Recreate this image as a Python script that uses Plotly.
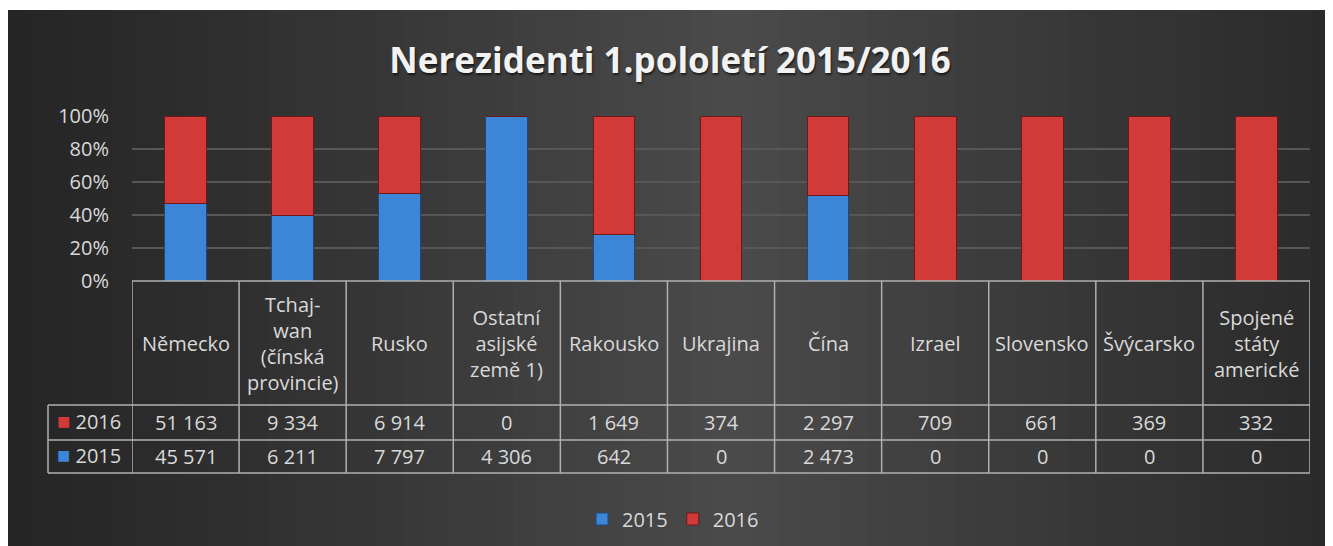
import plotly.graph_objects as go

# data
countries = ["Německo", "Tchaj-<br>wan<br>(čínská<br>provincie)", "Rusko", "Ostatní<br>asijské<br>země 1)",
             "Rakousko", "Ukrajina", "Čína", "Izrael", "Slovensko", "Švýcarsko", "Spojené<br>státy<br>americké"]
v2015 = [45571, 6211, 7797, 4306, 642, 0, 2473, 0, 0, 0, 0]
v2016 = [51163, 9334, 6914, 0, 1649, 374, 2297, 709, 661, 369, 332]
y_ticks = [0, 20, 40, 60, 80, 100]
y_ticklabels = ["0%", "20%", "40%", "60%", "80%", "100%"]

# page body has an 8px margin, so work in screen pixels and subtract it
OFF = 8
W, H = 1333 - OFF, 546 - OFF
BLUE = "#3d85d6"
RED = "#d23a3a"
TXT = "#d9d9d9"
GRID = "#575757"
LINE = "#b0b0b0"
FONT = "Open Sans"

n = len(countries)
x = list(range(n))

fig = go.Figure()
fig.add_trace(go.Bar(x=x, y=v2015, name="2015", width=0.39,
                     marker=dict(color=BLUE, line=dict(color="#1c4a80", width=1))))
fig.add_trace(go.Bar(x=x, y=v2016, name="2016", width=0.39,
                     marker=dict(color=RED, line=dict(color="#6e1818", width=1))))

# screen pixel -> paper fraction
def py(p):
    return 1 - (p - OFF) / H

def px(p):
    return (p - OFF) / W

x0, x1 = 132, 1310
y_top, y_axis = 116, 281
r1, r2, r3 = 405, 440, 473

shapes = []
# background gradient (white strip at top, dark gradient panel)
steps = 60
left = 3
for i in range(steps):
    a = left + (1333 - left) * i / steps
    b = left + (1333 - left) * (i + 1) / steps
    t = (i + 0.5) / steps
    c = 37 + int(38 * max(0, 1 - abs(t - 0.55) / 0.55) ** 1.1)
    if t > 0.975:
        c = 42
    col = f"rgb({c},{c},{c})"
    shapes.append(dict(type="rect", xref="paper", yref="paper", layer="below",
                       x0=max(px(a), -0.01), x1=px(b) + 0.001, y0=-0.01, y1=py(10),
                       fillcolor=col, line=dict(width=0)))

# table lines
def hline(y, xa, xb):
    shapes.append(dict(type="line", xref="paper", yref="paper", x0=px(xa), x1=px(xb),
                       y0=py(y), y1=py(y), line=dict(color=LINE, width=1.5)))

hline(y_axis, x0, x1)
for yy in (r1, r2, r3):
    hline(yy, 48, x1)
shapes.append(dict(type="line", xref="paper", yref="paper", x0=px(48), x1=px(48),
                   y0=py(r1), y1=py(r3), line=dict(color=LINE, width=1.5)))
for i in range(n + 1):
    shapes.append(dict(type="line", xref="x", yref="paper", x0=i - 0.5, x1=i - 0.5,
                       y0=py(y_axis), y1=py(r3), line=dict(color=LINE, width=1.5)))

annotations = []
fmt = lambda v: f"{v:,}".replace(",", " ")
cell_font = dict(family=FONT, size=20, color=TXT)
for i, c in enumerate(countries):
    annotations.append(dict(x=i, y=py((y_axis + r1) / 2), xref="x", yref="paper", text=c,
                            showarrow=False, font=cell_font, yanchor="middle"))
    annotations.append(dict(x=i, y=py((r1 + r2) / 2), xref="x", yref="paper", text=fmt(v2016[i]),
                            showarrow=False, font=cell_font, yanchor="middle"))
    annotations.append(dict(x=i, y=py((r2 + r3) / 2), xref="x", yref="paper", text=fmt(v2015[i]),
                            showarrow=False, font=cell_font, yanchor="middle"))
for label, col, (ya, yb) in (("2016", RED, (r1, r2)), ("2015", BLUE, (r2, r3))):
    annotations.append(dict(x=px(55), y=py((ya + yb) / 2 - 3), xref="paper", yref="paper",
                            xanchor="left", yanchor="middle",
                            text=f"<span style='color:{col};font-size:22px'>■</span> {label}",
                            showarrow=False, font=cell_font))

fig.update_layout(
    template="none",
    width=W, height=H,
    margin=dict(l=0, r=0, t=0, b=0, autoexpand=False),
    paper_bgcolor="white",
    plot_bgcolor="rgba(0,0,0,0)",
    barmode="stack",
    barnorm="percent",
    title=dict(text="<b>Nerezidenti 1.pololetí 2015/2016</b>", x=px(670), xanchor="center",
               y=py(61), yanchor="middle",
               font=dict(family=FONT, size=35, color="#f2f2f2",
                         shadow="1px 2px 2px rgba(0,0,0,0.6)")),
    xaxis=dict(domain=[px(x0), px(x1)], range=[-0.5, n - 0.5], showticklabels=False,
               showgrid=False, zeroline=False, showline=False, ticks="", automargin=False),
    yaxis=dict(domain=[py(y_axis), py(y_top)], range=[0, 100], tickvals=y_ticks,
               ticktext=y_ticklabels, gridcolor=GRID, gridwidth=1.5, zeroline=False,
               showline=False, ticks="", ticklabelstandoff=22, automargin=False,
               tickfont=dict(family=FONT, size=20, color=TXT)),
    legend=dict(orientation="h", x=px(673), xanchor="center", y=py(519), yanchor="middle",
                font=dict(family=FONT, size=20, color=TXT), bgcolor="rgba(0,0,0,0)",
                itemwidth=30, traceorder="normal"),
    shapes=shapes,
    annotations=annotations,
    showlegend=True,
)

fig.write_html("out.html")
